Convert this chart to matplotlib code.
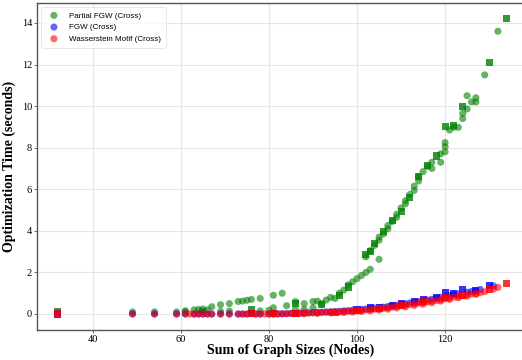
import matplotlib
matplotlib.use("Agg")
import matplotlib.pyplot as plt

# Partial FGW (cross) timings, circles
pfgw_x = [49, 54, 59, 61, 61, 63, 64, 65, 66, 67, 69, 69, 71, 71, 73, 74, 75, 76,
          78, 78, 80, 81, 81, 83, 84, 86, 86, 88, 88, 90, 90, 91, 92, 93, 94, 95,
          96, 97, 98, 99, 100, 101, 102, 103, 105,
          102, 103, 104, 105, 105, 106, 107, 107, 108, 109, 109, 110, 111, 111,
          112, 113, 113, 114, 114, 115, 116, 117, 117, 119, 119, 120, 120, 120,
          121, 122, 123, 124, 124, 125, 125, 126, 127, 127, 129, 132]
pfgw_y = [0.10, 0.10, 0.10, 0.12, 0.15, 0.20, 0.22, 0.24, 0.20, 0.35, 0.45, 0.12,
          0.50, 0.14, 0.60, 0.62, 0.66, 0.70, 0.75, 0.15, 0.18, 0.90, 0.30, 1.00,
          0.40, 0.60, 0.22, 0.50, 0.22, 0.60, 0.30, 0.62, 0.50, 0.67, 0.80, 0.75,
          1.00, 1.15, 1.40, 1.55, 1.70, 1.85, 2.00, 2.15, 2.63,
          2.75, 3.05, 3.30, 3.55, 3.70, 3.85, 4.10, 4.25, 4.45, 4.65, 4.80, 5.10,
          5.30, 5.45, 5.75, 5.95, 6.15, 6.40, 6.60, 6.85, 7.10, 7.00, 7.30, 7.30,
          7.70, 7.80, 8.05, 8.25, 8.85, 8.98, 8.98, 9.40, 9.65, 9.86, 10.50, 10.20,
          10.20, 10.40, 11.50, 13.60]

# Partial FGW, squares
pfgw_sq_x = [32, 65, 76, 86, 92, 96, 98, 102, 103, 104, 106, 108, 110, 112, 114,
             116, 118, 120, 122, 124, 130, 134]
pfgw_sq_y = [0.10, 0.12, 0.20, 0.50, 0.45, 0.90, 1.30, 2.85, 3.00, 3.40, 3.95,
             4.50, 4.95, 5.60, 6.60, 7.15, 7.60, 9.00, 9.05, 9.97, 12.10, 14.20]

# FGW (cross), circles
fgw_x = [49, 54, 59, 61, 63, 64, 65, 66, 67, 69, 71, 73, 74, 75, 77, 78, 80, 81,
         82, 83, 84, 85, 87, 88, 89, 90, 91, 92, 93, 94, 95, 96, 97, 98, 99, 100,
         101, 102, 103, 104, 105, 106, 107, 108, 109, 110, 111, 112, 113, 114,
         115, 116, 117, 118, 119, 120, 121, 122, 123, 125, 126, 127, 128, 131]
fgw_y = [0.0, 0.0, 0.0, 0.0, 0.0, 0.0, 0.0, 0.0, 0.0, 0.0, 0.0, 0.0, 0.0, 0.0,
         0.0, 0.0, 0.0, 0.0, 0.01, 0.01, 0.02, 0.03, 0.04, 0.05, 0.06, 0.07,
         0.08, 0.09, 0.10, 0.11, 0.12, 0.13, 0.15, 0.16, 0.18, 0.20, 0.22, 0.24,
         0.26, 0.28, 0.30, 0.33, 0.36, 0.39, 0.42, 0.46, 0.49, 0.53, 0.56, 0.60,
         0.63, 0.67, 0.71, 0.75, 0.80, 0.85, 0.89, 0.93, 0.97, 1.05, 1.08, 1.12,
         1.18, 1.35]

# FGW, squares
fgw_sq_x = [32, 76, 81, 86, 100, 103, 105, 108, 110, 113, 115, 118, 120, 122,
            124, 127, 130]
fgw_sq_y = [0.0, 0.02, 0.02, 0.04, 0.22, 0.29, 0.32, 0.42, 0.50, 0.60, 0.68,
            0.80, 1.02, 1.00, 1.19, 1.15, 1.35]

# Wasserstein Motif (cross), circles
wm_x = [49, 54, 59, 61, 62, 63, 64, 65, 66, 67, 69, 71, 73, 74, 75, 77, 78, 79,
        80, 81, 82, 83, 84, 85, 86, 87, 88, 89, 90, 91, 92, 93, 94, 95, 96, 97,
        98, 99, 100, 101, 102, 103, 104, 105, 106, 107, 108, 109, 110, 111, 112,
        113, 114, 115, 116, 117, 118, 119, 120, 121, 122, 123, 124, 125, 126,
        127, 128, 129, 131, 132,
        88, 91, 94, 97, 99, 101, 103, 105, 107, 109, 111, 113, 115, 117, 119,
        121, 123, 125, 127]
wm_y = [0.0, 0.0, 0.0, 0.0, 0.0, 0.0, 0.0, 0.0, 0.0, 0.0, 0.0, 0.0, 0.0, 0.0,
        0.0, 0.0, 0.0, 0.0, 0.0, 0.0, 0.0, 0.01, 0.01, 0.02, 0.02, 0.03, 0.04,
        0.04, 0.05, 0.06, 0.07, 0.08, 0.09, 0.10, 0.10, 0.12, 0.13, 0.14, 0.15,
        0.17, 0.19, 0.21, 0.23, 0.25, 0.28, 0.30, 0.33, 0.36, 0.40, 0.43, 0.46,
        0.49, 0.52, 0.55, 0.58, 0.62, 0.65, 0.69, 0.73, 0.77, 0.81, 0.85, 0.88,
        0.92, 0.96, 0.98, 1.02, 1.07, 1.20, 1.28,
        0.01, 0.03, 0.05, 0.07, 0.09, 0.12, 0.15, 0.19, 0.23, 0.29, 0.34, 0.41,
        0.47, 0.54, 0.62, 0.70, 0.78, 0.86, 0.94]

# Wasserstein Motif, squares
wm_sq_x = [32, 76, 81, 86, 95, 100, 105, 110, 115, 120, 124, 130, 134]
wm_sq_y = [0.0, 0.02, 0.02, 0.03, 0.08, 0.15, 0.25, 0.42, 0.58, 0.78, 0.90, 1.20, 1.47]

xticks = [40, 60, 80, 100, 120]
yticks = [0, 2, 4, 6, 8, 10, 12, 14]

fig = plt.figure(figsize=(5.22, 3.6), dpi=100)
# axes run a little past the right edge of the canvas
ax = fig.add_axes([37 / 522, 30 / 360, 508 / 522, 327 / 360])

ax.scatter(pfgw_x, pfgw_y, s=26, c='green', alpha=0.6, edgecolors='none',
           label='Partial FGW (Cross)', zorder=3)
ax.scatter(pfgw_sq_x, pfgw_sq_y, s=26, c='green', marker='s', alpha=0.8,
           edgecolors='none', zorder=3)
ax.scatter(fgw_x, fgw_y, s=26, c='blue', alpha=0.6, edgecolors='none',
           label='FGW (Cross)', zorder=3)
ax.scatter(fgw_sq_x, fgw_sq_y, s=26, c='blue', marker='s', alpha=0.8,
           edgecolors='none', zorder=3)
ax.scatter(wm_x, wm_y, s=26, c='red', alpha=0.6, edgecolors='none',
           label='Wasserstein Motif (Cross)', zorder=4)
ax.scatter(wm_sq_x, wm_sq_y, s=26, c='red', marker='s', alpha=0.8,
           edgecolors='none', zorder=4)

ax.set_xlim(27.3, 142.7)
ax.set_ylim(-0.77, 14.96)
ax.set_xticks(xticks)
ax.set_yticks(yticks)
ax.grid(True, color='#e6e6e6', linewidth=0.8, zorder=0)
ax.set_axisbelow(True)

for side in ['left', 'bottom', 'top', 'right']:
    ax.spines[side].set_color('#555555')
    ax.spines[side].set_linewidth(1.0)

ax.tick_params(labelsize=7.5, length=2, width=0.6, color='#555555', pad=1.5)
for lab in ax.get_xticklabels() + ax.get_yticklabels():
    lab.set_family('Liberation Serif')

ax.set_xlabel('Sum of Graph Sizes (Nodes)', family='Liberation Serif',
              fontsize=10, fontweight='bold', labelpad=0)
ax.set_ylabel('Optimization Time (seconds)', family='Liberation Serif',
              fontsize=10, fontweight='bold', labelpad=4)

leg = ax.legend(loc='upper left', prop={'family': 'Liberation Sans', 'size': 5.8},
                frameon=True, borderpad=0.6, handletextpad=0.9, labelspacing=0.5)
leg.get_frame().set_edgecolor('#dddddd')
leg.get_frame().set_linewidth(0.6)

fig.savefig('out.png', dpi=100)
